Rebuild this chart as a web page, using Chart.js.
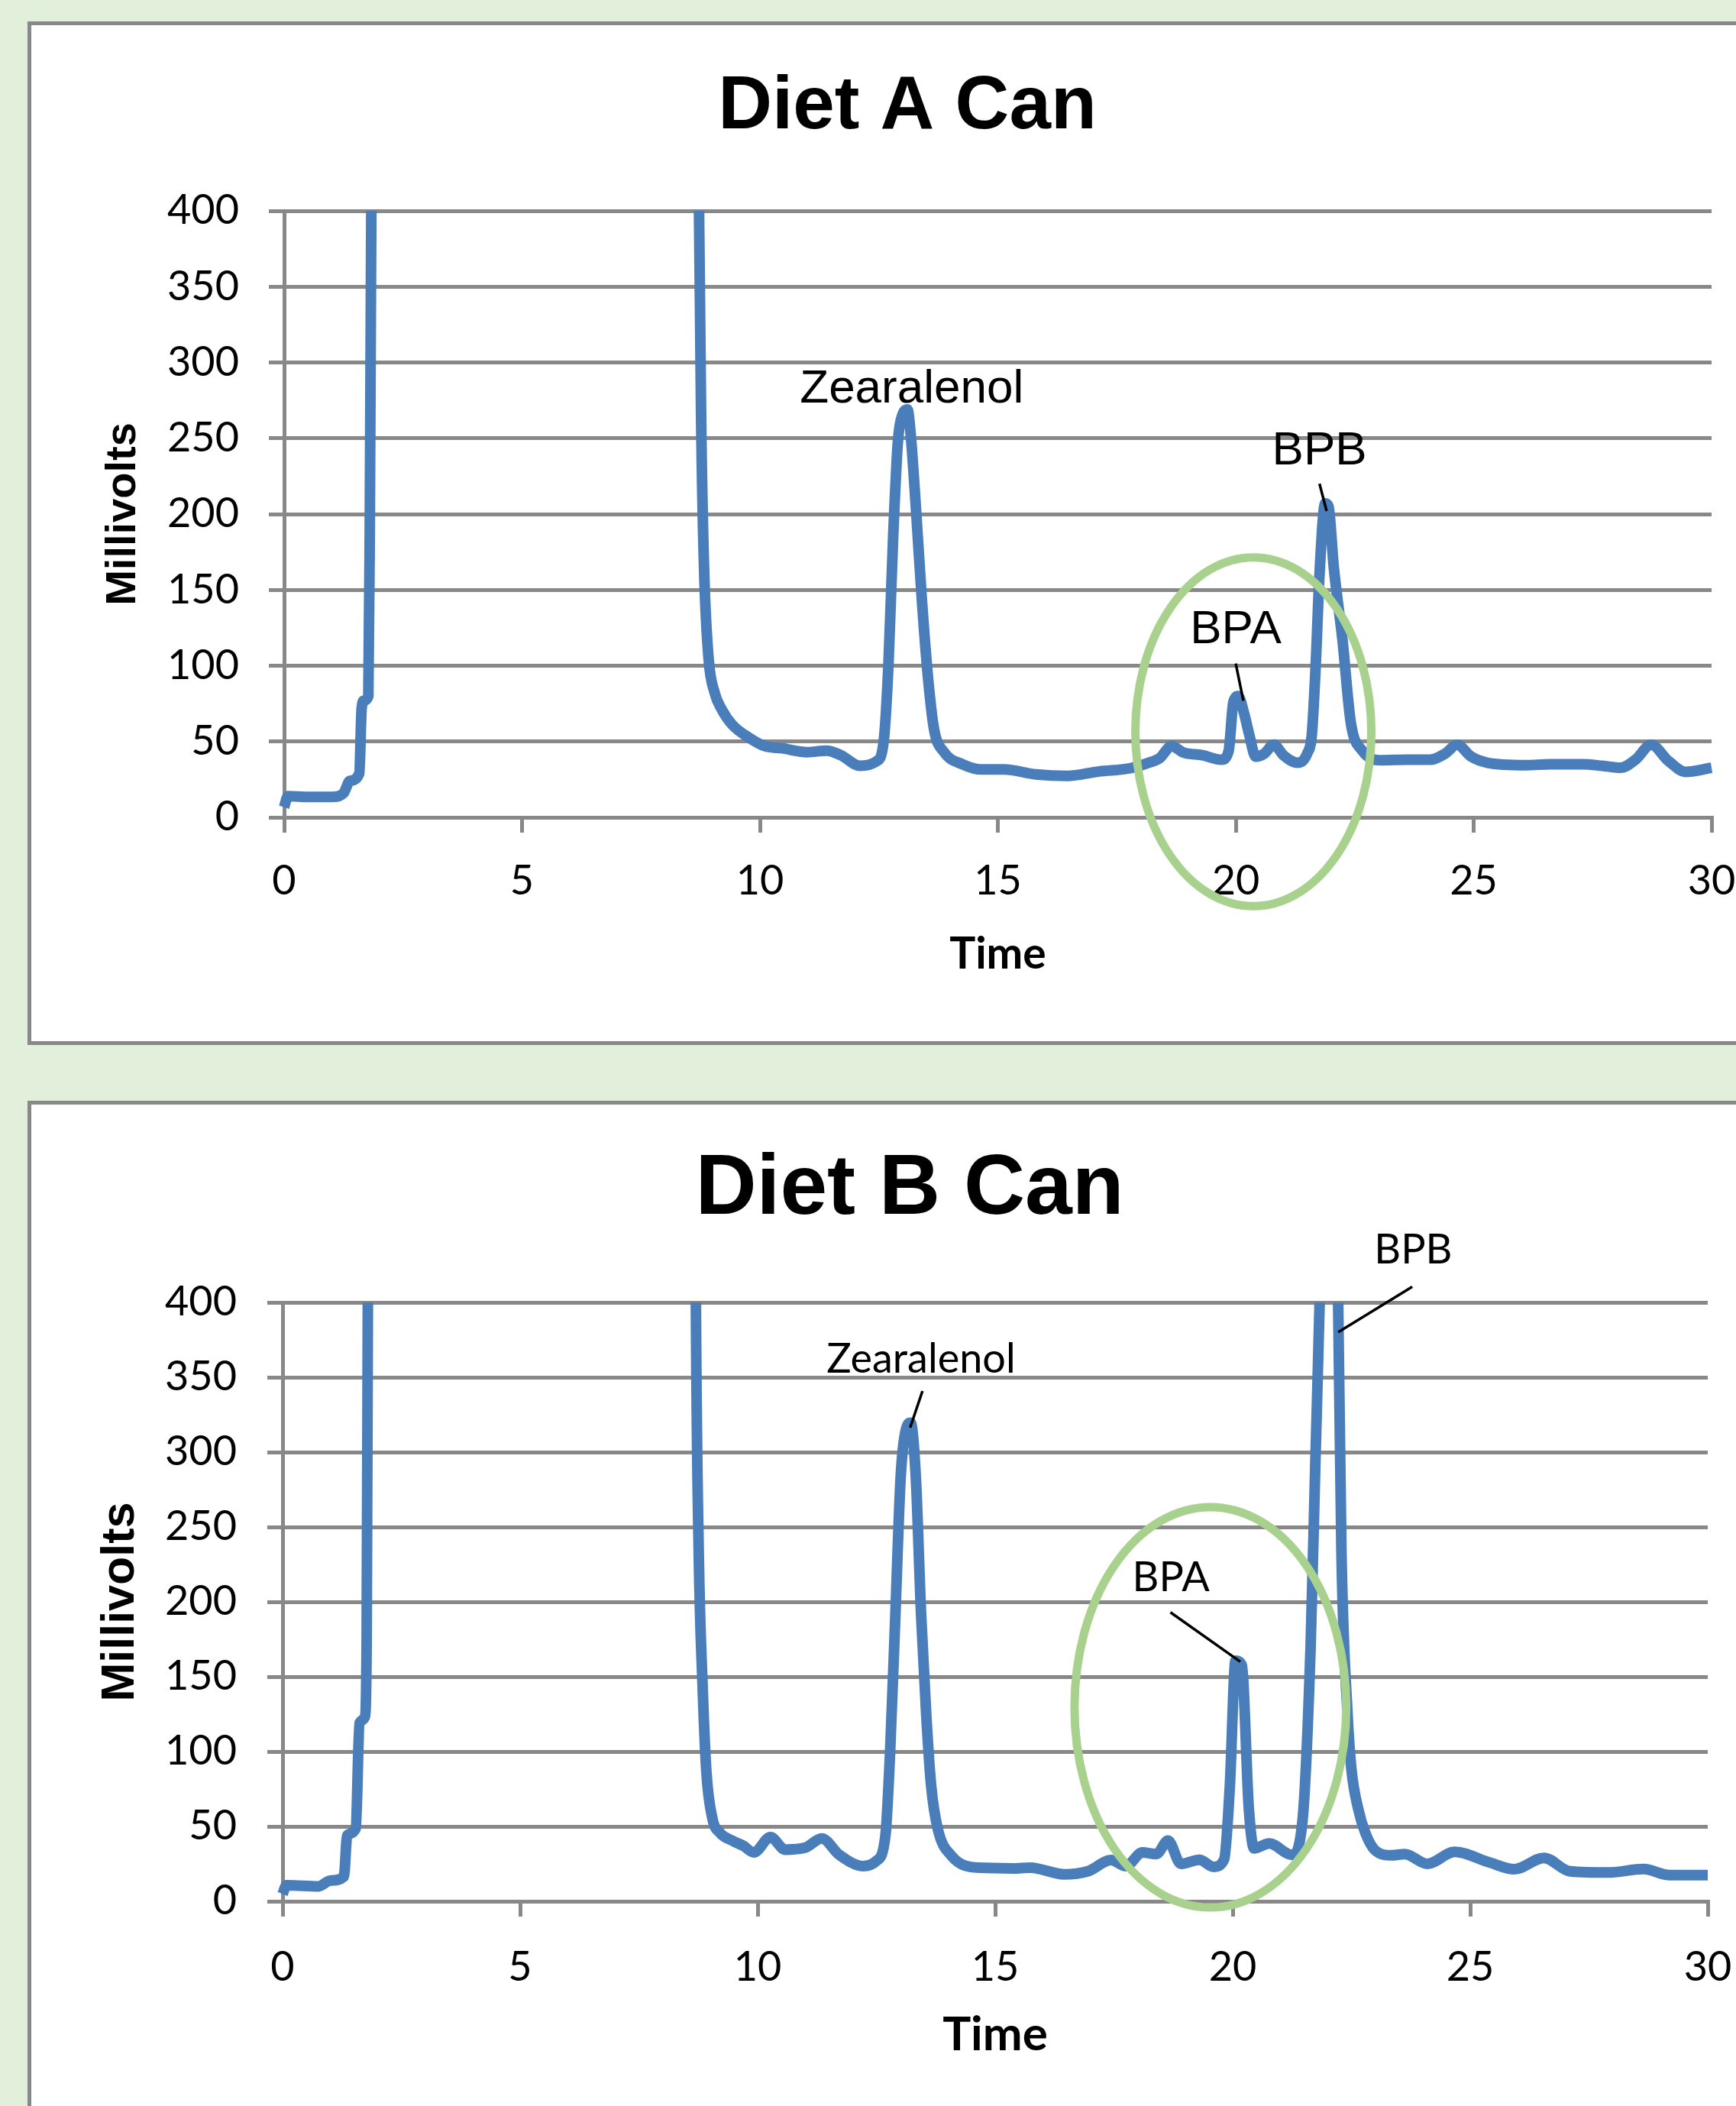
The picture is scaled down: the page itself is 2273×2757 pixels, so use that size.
<!DOCTYPE html>
<html>
<head>
<meta charset="utf-8">
<title>Diet A / Diet B Can</title>
<script src="https://cdn.jsdelivr.net/npm/chart.js@4/dist/chart.umd.min.js"></script>
<style>
    html, body { margin: 0; padding: 0; }
    body {
        width: 2273px;
        height: 2757px;
        overflow: hidden;
        position: relative;
        background: #e2efda;
    }
    .panel {
        position: absolute;
        left: 36px;
        width: 2400px;
        background: #fff;
        border: 5px solid #888;
        box-sizing: border-box;
    }
    #panelA { top: 28px; height: 1340px; }
    #panelB { top: 1441px; height: 1400px; }
    canvas { position: absolute; }
    #chartA { left: 41px; top: 33px; }
    #chartB { left: 41px; top: 1446px; }
</style>
</head>
<body>
<div class="panel" id="panelA"></div>
<div class="panel" id="panelB"></div>
<canvas id="chartA" width="2294" height="1329"></canvas>
<canvas id="chartB" width="2300" height="1311"></canvas>

<script>
// 轴刻度
const xTicks = [0, 5, 10, 15, 20, 25, 30];
const yTicks = [0, 50, 100, 150, 200, 250, 300, 350, 400];

// Diet A Can 色谱 (时间 min, 毫伏)
const timesA = [0.0, 0.08, 0.5, 1.0, 1.25, 1.38, 1.58, 1.63, 1.68, 1.77, 1.8, 1.84, 2.0,
    8.6, 8.72, 8.77, 8.83, 8.92, 9.05, 9.2, 9.42, 9.8, 10.1, 10.47, 11.0, 11.4, 11.7,
    12.1, 12.45, 12.6, 12.7, 12.8, 12.9, 13.0, 13.1, 13.17, 13.27, 13.4, 13.53, 13.66,
    13.87, 14.26, 14.66, 15.13, 15.8, 16.46, 17.13, 17.8, 18.12, 18.4, 18.65, 18.9,
    19.3, 19.7, 19.85, 19.95, 20.05, 20.18, 20.28, 20.42, 20.6, 20.8, 21.0, 21.3, 21.5,
    21.6, 21.68, 21.76, 21.88, 21.95, 22.06, 22.24, 22.42, 22.66, 23.06, 23.6, 24.09,
    24.4, 24.65, 24.95, 25.29, 26.09, 26.6, 27.29, 27.7, 28.09, 28.4, 28.73, 29.1, 29.45, 30.0];
const mvA = [6.7, 14, 13.5, 13.5, 16, 24, 29, 72, 77, 80, 190, 450, 1200,
    1200, 400, 250, 160, 105, 82, 71, 61, 52, 47, 45.5, 43, 44, 41,
    34, 37, 50, 100, 185, 248, 266, 269, 252, 208, 145, 93, 58,
    43, 35, 31.6, 31.6, 28.3, 27.3, 30.3, 32.5, 35.5, 39, 47, 42.8,
    41, 38, 43.7, 76, 80, 68, 55, 40, 42, 48, 41, 36, 42,
    55, 100, 160, 207, 205, 165, 118, 62, 44, 37.7, 38, 38,
    42, 47.8, 40, 36, 34.4, 35, 35, 34, 32.7, 38, 47.8, 37, 30, 32.7];

// Diet B Can 色谱
const timesB = [0.0, 0.08, 0.76, 1.0, 1.29, 1.36, 1.54, 1.62, 1.73, 1.77, 1.8, 1.95,
    8.6, 8.7, 8.76, 8.84, 8.92, 9.05, 9.2, 9.5, 9.7, 9.92, 10.27, 10.58, 11.0, 11.35,
    11.72, 12.22, 12.5, 12.69, 12.79, 12.9, 13.01, 13.12, 13.22, 13.33, 13.44, 13.55,
    13.65, 13.79, 14.08, 14.66, 15.38, 15.74, 16.45, 16.95, 17.44, 17.75, 18.1, 18.39,
    18.64, 18.91, 19.3, 19.6, 19.82, 19.94, 20.06, 20.19, 20.34, 20.45, 20.77, 21.25,
    21.47, 21.64, 21.74, 21.83, 22.02, 22.22, 22.29, 22.42, 22.5, 22.64, 22.8, 23.0,
    23.35, 23.62, 24.1, 24.67, 25.4, 25.93, 26.55, 27.1, 27.9, 28.65, 29.2, 30.0];
const mvB = [4.8, 10.7, 10, 13.8, 16.5, 44, 48.7, 119, 123, 175, 450, 1200,
    1200, 400, 233, 145, 87, 55, 46, 40, 37, 32.6, 42.8, 34.5, 35.8, 42,
    31, 23.5, 27, 44, 101, 192, 283, 315, 319.6, 283, 192, 124,
    78, 48.6, 30.4, 22.4, 22, 22.5, 18, 20, 27.5, 23.5, 32.6, 31.5,
    40.5, 25, 27.7, 23, 28, 77, 160.7, 158, 61.8, 35.3, 38.6, 31,
    54, 170, 293, 400, 700, 400, 232, 123.5, 88, 62, 45, 34,
    30.7, 31.5, 25, 33, 26, 21.4, 29, 20, 19.2, 21.5, 17.5, 17.5];

// 峰标注 (数据坐标)
const calloutsA = [
    { text: 'Zearalenol', x: 13.19, y: 282 },
    { text: 'BPB', x: 21.76, y: 241.6, from: [21.76, 220], to: [21.91, 202] },
    { text: 'BPA', x: 20.0, y: 123.4, from: [20.0, 101.4], to: [20.16, 76.9] }
];
const calloutsB = [
    { text: 'Zearalenol', x: 13.44, y: 362, from: [13.47, 340.8], to: [13.21, 316.3] },
    { text: 'BPB', x: 23.8, y: 434.8, from: [23.78, 410.5], to: [22.22, 380.1] },
    { text: 'BPA', x: 18.7, y: 216, from: [18.69, 193], to: [20.16, 160] }
];
// 绿色圈 (中心与半径, 数据坐标)
const ringA = { cx: 20.37, cy: 56.4, rx: 2.48, ry: 115 };
const ringB = { cx: 19.53, cy: 129.6, rx: 2.86, ry: 133.7 };

const GRID = '#888888';
const LINE = '#4a7ebb';

function calloutPlugin(items, ring, font) {
    return {
        id: 'callouts',
        afterDatasetsDraw(chart) {
            const { ctx } = chart;
            const x = chart.scales.x, y = chart.scales.y;
            ctx.save();
            // 绿色椭圆
            const cx = x.getPixelForValue(ring.cx), cy = y.getPixelForValue(ring.cy);
            ctx.strokeStyle = '#a9d18e';
            ctx.lineWidth = 11;
            ctx.beginPath();
            ctx.ellipse(cx, cy,
                Math.abs(x.getPixelForValue(ring.cx + ring.rx) - cx),
                Math.abs(y.getPixelForValue(ring.cy + ring.ry) - cy), 0, 0, Math.PI * 2);
            ctx.stroke();
            // 文字与引线
            ctx.fillStyle = '#000';
            ctx.strokeStyle = '#000';
            ctx.lineWidth = 3.5;
            ctx.font = font;
            ctx.textAlign = 'center';
            ctx.textBaseline = 'middle';
            items.forEach(c => {
                ctx.fillText(c.text, x.getPixelForValue(c.x), y.getPixelForValue(c.y));
                if (c.from) {
                    ctx.beginPath();
                    ctx.moveTo(x.getPixelForValue(c.from[0]), y.getPixelForValue(c.from[1]));
                    ctx.lineTo(x.getPixelForValue(c.to[0]), y.getPixelForValue(c.to[1]));
                    ctx.stroke();
                }
            });
            ctx.restore();
        }
    };
}

function makeChart(id, times, values, cfg) {
    const ctx = document.getElementById(id).getContext('2d');
    return new Chart(ctx, {
        type: 'line',
        data: {
            datasets: [{
                data: times.map((t, i) => ({ x: t, y: values[i] })),
                borderColor: LINE,
                borderWidth: 14,
                pointRadius: 0,
                fill: false,
                cubicInterpolationMode: 'monotone',
                clip: { left: 8, top: 0, right: 8, bottom: 8 }
            }]
        },
        options: {
            responsive: false,
            animation: false,
            events: [],
            layout: { padding: 0 },
            scales: {
                x: {
                    type: 'linear',
                    min: 0,
                    max: 30,
                    afterBuildTicks: s => { s.ticks = xTicks.map(v => ({ value: v })); },
                    afterFit: s => { s.height = cfg.xAxisH; },
                    grid: { drawOnChartArea: false, drawTicks: true, tickLength: 20, color: GRID, lineWidth: 5 },
                    border: { color: GRID, width: 5 },
                    ticks: {
                        color: '#000',
                        font: { family: 'Lato', size: 54 },
                        padding: cfg.xTickPad,
                        maxRotation: 0,
                        autoSkip: false
                    },
                    title: {
                        display: true,
                        text: 'Time',
                        color: '#000',
                        font: { family: 'Lato', weight: 'bold', size: cfg.timeSize },
                        padding: { top: 0, bottom: cfg.timePad }
                    }
                },
                y: {
                    type: 'linear',
                    min: 0,
                    max: 400,
                    afterBuildTicks: s => { s.ticks = yTicks.map(v => ({ value: v })); },
                    afterFit: s => { s.width = cfg.yAxisW; },
                    grid: { color: GRID, lineWidth: 5, drawTicks: true, tickLength: 20 },
                    border: { color: GRID, width: 5 },
                    ticks: {
                        color: '#000',
                        font: { family: 'Lato', size: 54 },
                        padding: cfg.yTickPad
                    },
                    title: {
                        display: true,
                        text: 'Millivolts',
                        color: '#000',
                        font: { family: 'Liberation Sans', weight: 'bold', size: cfg.mvSize },
                        padding: { top: cfg.mvPad, bottom: 0 }
                    }
                },
                // 右侧留白, 让标题按整个图表对象居中
                pad: {
                    type: 'linear',
                    position: 'right',
                    display: true,
                    grid: { display: false },
                    ticks: { display: false },
                    border: { display: false },
                    afterFit: s => { s.width = cfg.rightW; }
                }
            },
            plugins: {
                legend: { display: false },
                tooltip: { enabled: false },
                title: {
                    display: true,
                    text: cfg.title,
                    color: '#000',
                    font: { family: 'Liberation Sans', weight: 'bold', size: cfg.titleSize },
                    padding: { top: cfg.titleTop, bottom: cfg.titleBottom }
                }
            }
        },
        plugins: [calloutPlugin(cfg.callouts, cfg.ring, cfg.calloutFont)]
    });
}

makeChart('chartA', timesA, mvA, {
    title: 'Diet A Can', titleSize: 98, titleTop: 49, titleBottom: 76.4,
    xAxisH: 292, xTickPad: 31, timeSize: 57, timePad: 78,
    yAxisW: 331, yTickPad: 39, mvSize: 56, mvPad: 87,
    rightW: 94,
    callouts: calloutsA, ring: ringA, calloutFont: '62px "Liberation Sans"'
});

makeChart('chartB', timesB, mvB, {
    title: 'Diet B Can', titleSize: 111, titleTop: 45.4, titleBottom: 80.4,
    xAxisH: 268, xTickPad: 34, timeSize: 62, timePad: 56,
    yAxisW: 329, yTickPad: 40, mvSize: 61, mvPad: 81,
    rightW: 105,
    callouts: calloutsB, ring: ringB, calloutFont: '54px Lato'
});
</script>
</body>
</html>
